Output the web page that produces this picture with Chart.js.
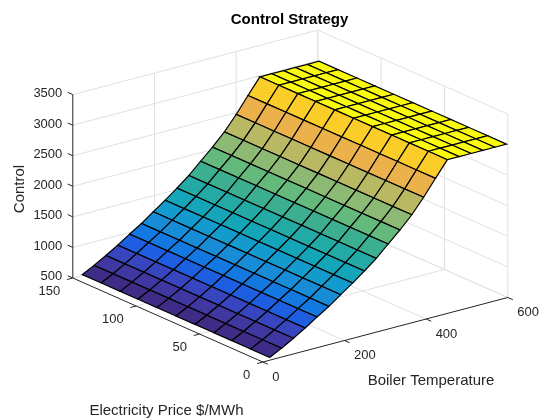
<!DOCTYPE html>
<html>
<head>
<meta charset="utf-8">
<style>html,body{margin:0;padding:0;background:#fff}canvas{display:block}</style>
<script src="https://cdn.jsdelivr.net/npm/chart.js@4"></script>
</head>
<body>
<canvas id="c" width="560" height="420"></canvas>
<script>
// ---- data ----
const boilerTemps = [20,49,78,107,136,165,194,223,252,281,310,339,368,397,426,455,484,513,542,571,600];
const prices = [1,16,31,45,60,75,90,105,119,134,149];
const controlByTemp = [530,630,741,859,988,1111,1251,1390,1536,1692,1875,2054,2252,2487,2746,3000,3000,3000,3000,3000,3000];
const tempTicks = [0,200,400,600];
const priceTicks = [0,50,100,150];
const controlTicks = [500,1000,1500,2000,2500,3000,3500];
const tempGrid = [200,400,600];
const priceGrid = [50,100,150];

// ---- flat face colours, one per temperature step ----
const rowColours = [
 'rgb(62,44,135)','rgb(64,56,160)','rgb(55,70,190)','rgb(30,95,225)','rgb(20,120,225)',
 'rgb(25,140,215)','rgb(20,155,205)','rgb(20,165,185)','rgb(35,170,165)','rgb(60,175,145)',
 'rgb(100,185,125)','rgb(140,185,115)','rgb(185,185,100)','rgb(235,178,75)','rgb(250,205,40)',
 'rgb(250,250,15)','rgb(250,250,15)','rgb(250,250,15)','rgb(250,250,15)','rgb(250,250,15)'
];

// ---- orthographic view of the three data axes onto the two hidden chart scales ----
const view = {x0:262.8, y0:362, tx:245/600, ty:-64.5/600, px:-190/150, py:-84/150, zy:-183.4/3000, zBase:500};
const zMin = 500, zMax = 3500, tMax = 600, pMax = 150;
function project(t,p,z){
  return {x:view.x0+t*view.tx+p*view.px, y:view.y0+t*view.ty+p*view.py+(z-view.zBase)*view.zy};
}
function poly(pts,extra){
  return Object.assign({data:pts,showLine:true,pointRadius:0,pointHoverRadius:0,tension:0,clip:false,fill:false},extra);
}
const datasets = [];
// surface: nearest cells first, because Chart.js paints the first dataset last
for(let i=0;i<boilerTemps.length-1;i++){
  for(let j=0;j<prices.length-1;j++){
    datasets.push(poly([
      project(boilerTemps[i],prices[j],controlByTemp[i]),
      project(boilerTemps[i+1],prices[j],controlByTemp[i+1]),
      project(boilerTemps[i+1],prices[j+1],controlByTemp[i+1]),
      project(boilerTemps[i],prices[j+1],controlByTemp[i]),
      project(boilerTemps[i],prices[j],controlByTemp[i])
    ],{fill:'shape',backgroundColor:rowColours[i],borderColor:'#000',borderWidth:1.2}));
  }
}
const axisStyle = {borderColor:'#262626',borderWidth:1};
const gridStyle = {borderColor:'#e0e0e0',borderWidth:1};
function seg(a,b,s){datasets.push(poly([project(...a),project(...b)],s));}
// axis lines and outward ticks
seg([0,0,zMin],[tMax,0,zMin],axisStyle);
seg([0,0,zMin],[0,pMax,zMin],axisStyle);
seg([0,pMax,zMin],[0,pMax,zMax],axisStyle);
const tickT = 14, tickP = 4;
tempTicks.forEach(t=>seg([t,0,zMin],[t,-tickP,zMin],axisStyle));
priceTicks.forEach(p=>seg([0,p,zMin],[-tickT,p,zMin],axisStyle));
controlTicks.forEach(z=>seg([0,pMax,z],[0,pMax+tickP,z],axisStyle));
// grid on the floor and the two back walls
tempGrid.forEach(t=>{
  seg([t,0,zMin],[t,pMax,zMin],gridStyle);
  seg([t,pMax,zMin],[t,pMax,zMax],gridStyle);
});
priceGrid.forEach(p=>{
  seg([0,p,zMin],[tMax,p,zMin],gridStyle);
  seg([tMax,p,zMin],[tMax,p,zMax],gridStyle);
});
seg([tMax,0,zMin],[tMax,0,zMax],gridStyle);
controlTicks.forEach(z=>{
  seg([0,pMax,z],[tMax,pMax,z],gridStyle);
  seg([tMax,pMax,z],[tMax,0,z],gridStyle);
});

const textPlugin = {
  id:'labels3d',
  afterDatasetsDraw(chart){
    const {ctx,scales:{x,y}} = chart;
    const at = q => ({x:x.getPixelForValue(q.x),y:y.getPixelForValue(q.y)});
    ctx.save();
    ctx.fillStyle='#262626';
    ctx.textBaseline='middle';
    ctx.font='13px "Liberation Sans", Arial, sans-serif';
    ctx.textAlign='right';
    controlTicks.forEach(z=>{const q=at(project(0,pMax,z));ctx.fillText(String(z),q.x-10.5,q.y+(z===zMin?-2:-1));});
    priceTicks.forEach(p=>{const q=at(project(0,p,zMin));ctx.fillText(String(p),q.x-12.5,q.y+13);});
    ctx.textAlign='left';
    tempTicks.forEach(t=>{const q=at(project(t,0,zMin));ctx.fillText(String(t),q.x+9.5,q.y+15);});
    ctx.font='15px "Liberation Sans", Arial, sans-serif';
    ctx.textAlign='center';
    const q1=at({x:431,y:381}); ctx.fillText('Boiler Temperature',q1.x,q1.y);
    const q2=at({x:166.5,y:411}); ctx.fillText('Electricity Price $/MWh',q2.x,q2.y);
    const q3=at({x:20,y:189});
    ctx.translate(q3.x,q3.y); ctx.rotate(-Math.PI/2); ctx.fillText('Control',0,0);
    ctx.restore();
  }
};

new Chart(document.getElementById('c'),{
  type:'scatter',
  data:{datasets},
  plugins:[textPlugin],
  options:{
    responsive:false,animation:false,
    layout:{padding:{left:19,top:0,right:0,bottom:0}},
    events:[],
    scales:{
      x:{type:'linear',display:false,min:19,max:560},
      y:{type:'linear',display:false,reverse:true,min:29,max:420}
    },
    plugins:{
      legend:{display:false},
      tooltip:{enabled:false},
      title:{display:true,text:'Control Strategy',color:'#000',fullSize:false,
        font:{family:'"Liberation Sans", Arial, sans-serif',size:15,weight:'bold',lineHeight:'18px'},
        padding:{top:11,bottom:0}}
    }
  }
});
</script>
</body>
</html>
